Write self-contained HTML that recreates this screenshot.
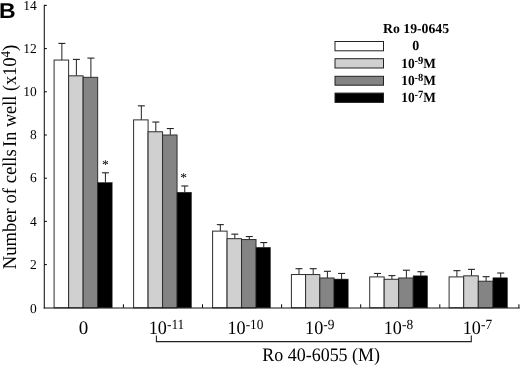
<!DOCTYPE html>
<html><head><meta charset="utf-8"><title>B</title>
<style>
html,body{margin:0;padding:0;background:#fff;}
body{width:520px;height:365px;overflow:hidden;}
svg{display:block;}
text{font-family:"Liberation Serif",serif;fill:#000;text-rendering:geometricPrecision;}
.b{font-family:"Liberation Sans",sans-serif;font-weight:bold;}
.lg{font-weight:bold;}
</style></head><body>
<svg width="520" height="365" viewBox="0 0 520 365">
<rect width="520" height="365" fill="#fff"/>

<line x1="61.86" y1="43.42" x2="61.86" y2="60.05" stroke="#222" stroke-width="1"/>
<line x1="58.36" y1="43.42" x2="65.36" y2="43.42" stroke="#222" stroke-width="1.1"/>
<rect x="54.10" y="60.05" width="14.52" height="247.75" fill="#ffffff" stroke="#2e2e2e" stroke-width="1"/>
<line x1="76.38" y1="59.40" x2="76.38" y2="75.82" stroke="#222" stroke-width="1"/>
<line x1="72.88" y1="59.40" x2="79.88" y2="59.40" stroke="#222" stroke-width="1.1"/>
<rect x="68.62" y="75.82" width="14.52" height="231.98" fill="#d0d0d0" stroke="#2e2e2e" stroke-width="1"/>
<line x1="90.90" y1="58.10" x2="90.90" y2="77.33" stroke="#222" stroke-width="1"/>
<line x1="87.40" y1="58.10" x2="94.40" y2="58.10" stroke="#222" stroke-width="1.1"/>
<rect x="83.14" y="77.33" width="14.52" height="230.47" fill="#848484" stroke="#2e2e2e" stroke-width="1"/>
<line x1="105.42" y1="172.80" x2="105.42" y2="182.52" stroke="#222" stroke-width="1"/>
<line x1="101.92" y1="172.80" x2="108.92" y2="172.80" stroke="#222" stroke-width="1.1"/>
<rect x="97.66" y="182.52" width="14.52" height="125.28" fill="#000000" stroke="#2e2e2e" stroke-width="0.5"/>
<line x1="141.34" y1="105.84" x2="141.34" y2="119.88" stroke="#222" stroke-width="1"/>
<line x1="137.84" y1="105.84" x2="144.84" y2="105.84" stroke="#222" stroke-width="1.1"/>
<rect x="133.60" y="119.88" width="14.48" height="187.92" fill="#ffffff" stroke="#2e2e2e" stroke-width="1"/>
<line x1="155.82" y1="122.04" x2="155.82" y2="131.76" stroke="#222" stroke-width="1"/>
<line x1="152.32" y1="122.04" x2="159.32" y2="122.04" stroke="#222" stroke-width="1.1"/>
<rect x="148.08" y="131.76" width="14.48" height="176.04" fill="#d0d0d0" stroke="#2e2e2e" stroke-width="1"/>
<line x1="170.30" y1="128.52" x2="170.30" y2="135.00" stroke="#222" stroke-width="1"/>
<line x1="166.80" y1="128.52" x2="173.80" y2="128.52" stroke="#222" stroke-width="1.1"/>
<rect x="162.56" y="135.00" width="14.48" height="172.80" fill="#848484" stroke="#2e2e2e" stroke-width="1"/>
<line x1="184.78" y1="185.98" x2="184.78" y2="192.24" stroke="#222" stroke-width="1"/>
<line x1="181.28" y1="185.98" x2="188.28" y2="185.98" stroke="#222" stroke-width="1.1"/>
<rect x="177.04" y="192.24" width="14.48" height="115.56" fill="#000000" stroke="#2e2e2e" stroke-width="0.5"/>
<line x1="220.34" y1="224.64" x2="220.34" y2="231.12" stroke="#222" stroke-width="1"/>
<line x1="216.84" y1="224.64" x2="223.84" y2="224.64" stroke="#222" stroke-width="1.1"/>
<rect x="212.60" y="231.12" width="14.47" height="76.68" fill="#ffffff" stroke="#2e2e2e" stroke-width="1"/>
<line x1="234.81" y1="234.14" x2="234.81" y2="238.68" stroke="#222" stroke-width="1"/>
<line x1="231.31" y1="234.14" x2="238.31" y2="234.14" stroke="#222" stroke-width="1.1"/>
<rect x="227.07" y="238.68" width="14.47" height="69.12" fill="#d0d0d0" stroke="#2e2e2e" stroke-width="1"/>
<line x1="249.28" y1="236.52" x2="249.28" y2="239.54" stroke="#222" stroke-width="1"/>
<line x1="245.78" y1="236.52" x2="252.78" y2="236.52" stroke="#222" stroke-width="1.1"/>
<rect x="241.54" y="239.54" width="14.47" height="68.26" fill="#848484" stroke="#2e2e2e" stroke-width="1"/>
<line x1="263.75" y1="242.57" x2="263.75" y2="247.32" stroke="#222" stroke-width="1"/>
<line x1="260.25" y1="242.57" x2="267.25" y2="242.57" stroke="#222" stroke-width="1.1"/>
<rect x="256.01" y="247.32" width="14.47" height="60.48" fill="#000000" stroke="#2e2e2e" stroke-width="0.5"/>
<line x1="299.00" y1="268.70" x2="299.00" y2="274.54" stroke="#222" stroke-width="1"/>
<line x1="295.50" y1="268.70" x2="302.50" y2="268.70" stroke="#222" stroke-width="1.1"/>
<rect x="291.40" y="274.54" width="14.20" height="33.26" fill="#ffffff" stroke="#2e2e2e" stroke-width="1"/>
<line x1="313.20" y1="268.70" x2="313.20" y2="274.54" stroke="#222" stroke-width="1"/>
<line x1="309.70" y1="268.70" x2="316.70" y2="268.70" stroke="#222" stroke-width="1.1"/>
<rect x="305.60" y="274.54" width="14.20" height="33.26" fill="#d0d0d0" stroke="#2e2e2e" stroke-width="1"/>
<line x1="327.40" y1="271.30" x2="327.40" y2="277.99" stroke="#222" stroke-width="1"/>
<line x1="323.90" y1="271.30" x2="330.90" y2="271.30" stroke="#222" stroke-width="1.1"/>
<rect x="319.80" y="277.99" width="14.20" height="29.81" fill="#848484" stroke="#2e2e2e" stroke-width="1"/>
<line x1="341.60" y1="273.46" x2="341.60" y2="279.07" stroke="#222" stroke-width="1"/>
<line x1="338.10" y1="273.46" x2="345.10" y2="273.46" stroke="#222" stroke-width="1.1"/>
<rect x="334.00" y="279.07" width="14.20" height="28.73" fill="#000000" stroke="#2e2e2e" stroke-width="0.5"/>
<line x1="377.44" y1="273.46" x2="377.44" y2="276.91" stroke="#222" stroke-width="1"/>
<line x1="373.94" y1="273.46" x2="380.94" y2="273.46" stroke="#222" stroke-width="1.1"/>
<rect x="369.70" y="276.91" width="14.47" height="30.89" fill="#ffffff" stroke="#2e2e2e" stroke-width="1"/>
<line x1="391.91" y1="275.62" x2="391.91" y2="279.29" stroke="#222" stroke-width="1"/>
<line x1="388.41" y1="275.62" x2="395.41" y2="275.62" stroke="#222" stroke-width="1.1"/>
<rect x="384.17" y="279.29" width="14.47" height="28.51" fill="#d0d0d0" stroke="#2e2e2e" stroke-width="1"/>
<line x1="406.38" y1="270.22" x2="406.38" y2="277.99" stroke="#222" stroke-width="1"/>
<line x1="402.88" y1="270.22" x2="409.88" y2="270.22" stroke="#222" stroke-width="1.1"/>
<rect x="398.64" y="277.99" width="14.47" height="29.81" fill="#848484" stroke="#2e2e2e" stroke-width="1"/>
<line x1="420.85" y1="271.73" x2="420.85" y2="275.83" stroke="#222" stroke-width="1"/>
<line x1="417.35" y1="271.73" x2="424.35" y2="271.73" stroke="#222" stroke-width="1.1"/>
<rect x="413.11" y="275.83" width="14.47" height="31.97" fill="#000000" stroke="#2e2e2e" stroke-width="0.5"/>
<line x1="456.90" y1="270.65" x2="456.90" y2="276.91" stroke="#222" stroke-width="1"/>
<line x1="453.40" y1="270.65" x2="460.40" y2="270.65" stroke="#222" stroke-width="1.1"/>
<rect x="449.10" y="276.91" width="14.60" height="30.89" fill="#ffffff" stroke="#2e2e2e" stroke-width="1"/>
<line x1="471.50" y1="269.35" x2="471.50" y2="275.83" stroke="#222" stroke-width="1"/>
<line x1="468.00" y1="269.35" x2="475.00" y2="269.35" stroke="#222" stroke-width="1.1"/>
<rect x="463.70" y="275.83" width="14.60" height="31.97" fill="#d0d0d0" stroke="#2e2e2e" stroke-width="1"/>
<line x1="486.10" y1="276.70" x2="486.10" y2="281.23" stroke="#222" stroke-width="1"/>
<line x1="482.60" y1="276.70" x2="489.60" y2="276.70" stroke="#222" stroke-width="1.1"/>
<rect x="478.30" y="281.23" width="14.60" height="26.57" fill="#848484" stroke="#2e2e2e" stroke-width="1"/>
<line x1="500.70" y1="273.02" x2="500.70" y2="277.78" stroke="#222" stroke-width="1"/>
<line x1="497.20" y1="273.02" x2="504.20" y2="273.02" stroke="#222" stroke-width="1.1"/>
<rect x="492.90" y="277.78" width="14.60" height="30.02" fill="#000000" stroke="#2e2e2e" stroke-width="0.5"/>
<line x1="44.3" y1="4.8" x2="44.3" y2="308.5" stroke="#1a1a1a" stroke-width="1.1"/>
<line x1="43.7" y1="308.05" x2="519.8" y2="308.05" stroke="#111" stroke-width="1.1"/>
<text x="36.8" y="312.60" font-size="13.5" text-anchor="end">0</text>
<line x1="44.3" y1="264.60" x2="46.9" y2="264.60" stroke="#000" stroke-width="1"/>
<text x="36.8" y="268.80" font-size="13.5" text-anchor="end">2</text>
<line x1="44.3" y1="221.40" x2="46.9" y2="221.40" stroke="#000" stroke-width="1"/>
<text x="36.8" y="225.60" font-size="13.5" text-anchor="end">4</text>
<line x1="44.3" y1="178.20" x2="46.9" y2="178.20" stroke="#000" stroke-width="1"/>
<text x="36.8" y="182.40" font-size="13.5" text-anchor="end">6</text>
<line x1="44.3" y1="135.00" x2="46.9" y2="135.00" stroke="#000" stroke-width="1"/>
<text x="36.8" y="139.20" font-size="13.5" text-anchor="end">8</text>
<line x1="44.3" y1="91.80" x2="46.9" y2="91.80" stroke="#000" stroke-width="1"/>
<text x="36.8" y="96.00" font-size="13.5" text-anchor="end">10</text>
<line x1="44.3" y1="48.60" x2="46.9" y2="48.60" stroke="#000" stroke-width="1"/>
<text x="36.8" y="52.80" font-size="13.5" text-anchor="end">12</text>
<line x1="44.3" y1="5.40" x2="46.9" y2="5.40" stroke="#000" stroke-width="1"/>
<text x="36.8" y="9.60" font-size="13.5" text-anchor="end">14</text>
<line x1="123.40" y1="307.8" x2="123.40" y2="304.3" stroke="#000" stroke-width="1"/>
<line x1="202.50" y1="307.8" x2="202.50" y2="304.3" stroke="#000" stroke-width="1"/>
<line x1="281.60" y1="307.8" x2="281.60" y2="304.3" stroke="#000" stroke-width="1"/>
<line x1="360.70" y1="307.8" x2="360.70" y2="304.3" stroke="#000" stroke-width="1"/>
<line x1="439.80" y1="307.8" x2="439.80" y2="304.3" stroke="#000" stroke-width="1"/>
<line x1="518.90" y1="307.8" x2="518.90" y2="304.3" stroke="#000" stroke-width="1"/>
<text x="105.4" y="168.6" font-size="13.5" text-anchor="middle" fill="#444">*</text>
<text x="183.6" y="181.7" font-size="13.5" text-anchor="middle" fill="#444">*</text>
<text class="b" transform="translate(-0.9,17.7) scale(1.07,1)" font-size="21.5">B</text>
<g transform="translate(15.8,269.2) rotate(-90)" font-size="19.5"><text transform="scale(0.955,1)">Number of cells</text><text transform="translate(122.3,0) scale(0.937,1)">In well (x1</text><text transform="translate(202.4,0) scale(0.96,1)">0<tspan font-size="13.5" dy="-5.5">4</tspan><tspan dy="5.5">)</tspan></text></g>
<text x="83.6" y="333.5" font-size="19" text-anchor="middle">0</text>
<text transform="translate(148.8,333.5) scale(0.955,1)" font-size="19">10<tspan font-size="14" dy="-5">-11</tspan></text>
<text transform="translate(227.5,333.5) scale(0.955,1)" font-size="19">10<tspan font-size="14" dy="-5">-10</tspan></text>
<text transform="translate(305.1,333.5) scale(0.955,1)" font-size="19">10<tspan font-size="14" dy="-5">-9</tspan></text>
<text transform="translate(383.8,333.5) scale(0.955,1)" font-size="19">10<tspan font-size="14" dy="-5">-8</tspan></text>
<text transform="translate(462.8,333.5) scale(0.955,1)" font-size="19">10<tspan font-size="14" dy="-5">-7</tspan></text>
<path d="M156.4 335.6 V341.6 H471.3 V335.6" fill="none" stroke="#222" stroke-width="1.1"/>
<text transform="translate(262.3,361.2) scale(0.945,1)" font-size="19">Ro 40-6055 (M)</text>
<text class="lg" x="416.1" y="33.1" font-size="13.75" text-anchor="middle">Ro 19-0645</text>
<rect x="335" y="41.50" width="48.5" height="9.3" fill="#ffffff" stroke="#222" stroke-width="1"/>
<text class="lg" x="415.7" y="50.40" font-size="14" text-anchor="middle">0</text>
<rect x="335" y="58.70" width="48.5" height="9.3" fill="#d0d0d0" stroke="#222" stroke-width="1"/>
<text class="lg" transform="translate(401.2,68.00) scale(0.955,1)" font-size="14">10<tspan font-size="11" dy="-3.6">-9</tspan><tspan dy="3.6">M</tspan></text>
<rect x="335" y="76.30" width="48.5" height="8.9" fill="#848484" stroke="#222" stroke-width="1"/>
<text class="lg" transform="translate(401.2,84.90) scale(0.955,1)" font-size="14">10<tspan font-size="11" dy="-3.6">-8</tspan><tspan dy="3.6">M</tspan></text>
<rect x="335" y="93.10" width="48.5" height="9.3" fill="#000000" stroke="#222" stroke-width="1"/>
<text class="lg" transform="translate(401.2,101.60) scale(0.955,1)" font-size="14">10<tspan font-size="11" dy="-3.6">-7</tspan><tspan dy="3.6">M</tspan></text>
</svg></body></html>
